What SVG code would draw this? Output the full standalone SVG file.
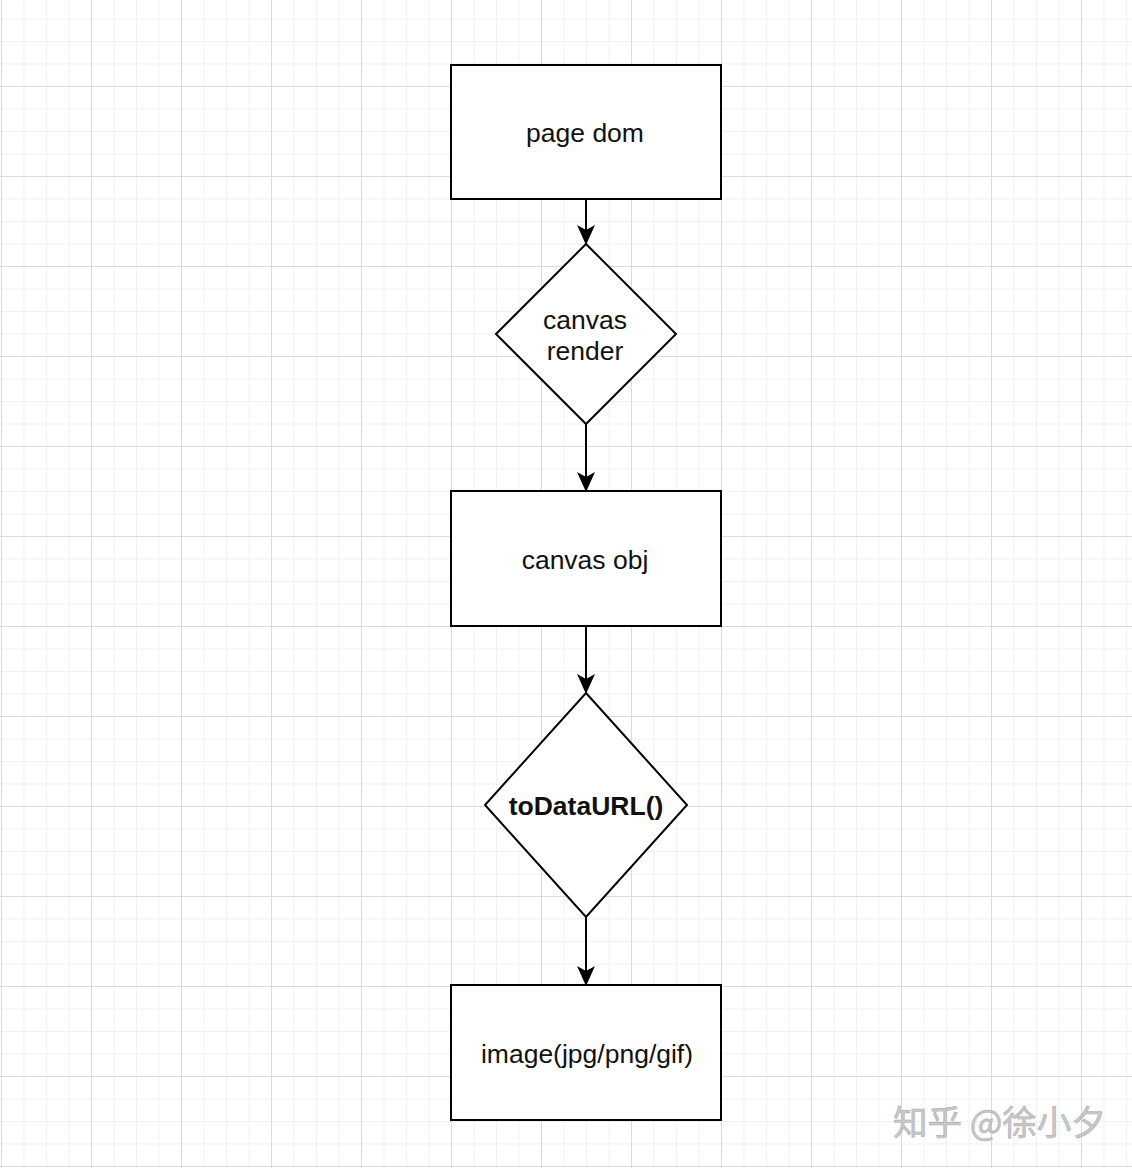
<svg xmlns="http://www.w3.org/2000/svg" width="1132" height="1168" viewBox="0 0 1132 1168">
<defs>
<pattern id="minor" width="22.5" height="22.5" patternUnits="userSpaceOnUse" x="1" y="-4">
<path d="M0 0.5H22.5M0.5 0V22.5" fill="none" stroke="#f0f0f0" stroke-width="1"/>
</pattern>
<pattern id="major" width="90" height="90" patternUnits="userSpaceOnUse" x="1" y="-4">
<path d="M0 0.5H90M0.5 0V90" fill="none" stroke="#dadada" stroke-width="1"/>
</pattern>
<marker id="arr" viewBox="0 0 20 18" refX="19" refY="9" markerWidth="20" markerHeight="18" markerUnits="userSpaceOnUse" orient="auto">
<path d="M0 0L20 9L0 18L5 9Z" fill="#000"/>
</marker>
</defs>
<style>
.shape{fill:#fff;stroke:#000;stroke-width:2}
.lbl{font-family:"Liberation Sans",Arial,sans-serif;font-size:26.5px;fill:#111;text-anchor:middle}
.edge{stroke:#000;stroke-width:2;fill:none}
</style>
<rect width="1132" height="1168" fill="#fff"/>
<rect width="1132" height="1168" fill="url(#minor)"/>
<rect width="1132" height="1168" fill="url(#major)"/>
<g id="connectors">
<path class="edge" d="M586 199V244" marker-end="url(#arr)"/>
<path class="edge" d="M586 424V491" marker-end="url(#arr)"/>
<path class="edge" d="M586 626V693" marker-end="url(#arr)"/>
<path class="edge" d="M586 917V985" marker-end="url(#arr)"/>
</g>
<g id="page-dom">
<rect class="shape" x="451" y="65" width="270" height="134"/>
<text class="lbl" x="585" y="142">page dom</text>
</g>
<g id="canvas-render">
<polygon class="shape" points="586,244 676,334 586,424 496,334"/>
<text class="lbl" x="585" y="329">canvas</text>
<text class="lbl" x="585" y="360">render</text>
</g>
<g id="canvas-obj">
<rect class="shape" x="451" y="491" width="270" height="135"/>
<text class="lbl" x="585" y="569">canvas obj</text>
</g>
<g id="todataurl">
<polygon class="shape" points="586,693 687,805 586,917 485,805"/>
<text class="lbl" x="586" y="815" font-weight="bold">toDataURL()</text>
</g>
<g id="image">
<rect class="shape" x="451" y="985" width="270" height="135"/>
<text class="lbl" x="587" y="1063">image(jpg/png/gif)</text>
</g>
<text x="893" y="1135" font-family="'Noto Sans CJK SC','Noto Sans',sans-serif" font-size="34.5" fill="#c8c8c8" stroke="#b0b0b0" stroke-width="0.6">知乎 @徐小夕</text>
</svg>
